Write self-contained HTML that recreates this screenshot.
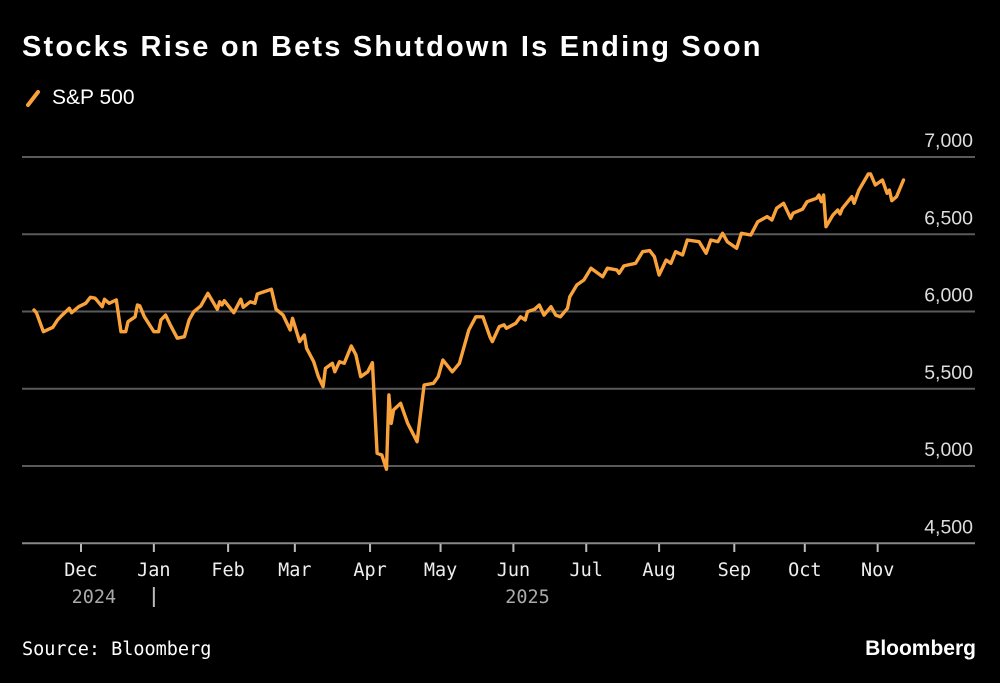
<!DOCTYPE html>
<html><head><meta charset="utf-8"><style>
html,body{margin:0;padding:0;background:#000;}
body{width:1000px;height:683px;overflow:hidden;position:relative;font-family:"Liberation Sans",sans-serif;color:#fff;}
.title{position:absolute;left:22px;top:31px;font-size:29px;font-weight:bold;letter-spacing:2.2px;white-space:nowrap;}
.legend{position:absolute;left:24px;top:86px;font-size:21px;display:flex;align-items:center;}
.src{position:absolute;left:22px;top:639px;font-family:"DejaVu Sans Mono","Liberation Mono",monospace;font-size:18.5px;}
.brand{position:absolute;right:24px;top:637px;font-size:21px;font-weight:bold;}
svg{position:absolute;left:0;top:0;}
</style></head><body>
<div class="title">Stocks Rise on Bets Shutdown Is Ending Soon</div>
<div class="legend">
<svg style="position:static" width="20" height="22"><line x1="4" y1="18" x2="14" y2="5" stroke="#f9a23b" stroke-width="4" stroke-linecap="round"/></svg>
<span style="margin-left:8px">S&amp;P 500</span></div>
<svg id="chart" width="1000" height="683"></svg>
<div class="src">Source: Bloomberg</div>
<div class="brand">Bloomberg</div>
<script>
const days=[0,1,4,8,10,12,15,16,19,22,24,26,29,30,32,35,37,39,40,43,44,45,47,51,53,54,56,58,61,64,66,68,71,74,78,79,80,81,85,88,89,92,94,95,101,103,106,109,110,113,115,116,119,121,123,124,127,128,130,132,135,137,139,142,144,146,148,150,151,152,153,156,159,163,166,170,172,174,178,181,185,188,191,194,195,198,200,201,205,207,209,210,213,215,217,220,222,224,227,228,231,234,237,242,244,248,249,251,256,259,262,264,266,269,271,273,276,278,283,286,288,291,293,295,299,301,305,308,312,314,316,319,322,323,327,329,333,334,335,336,337,340,342,343,344,348,349,351,355,356,358,361,363,364,365,367,370];
const values=[6010,5992,5869,5898,5945,5977,6021,5992,6031,6053,6092,6086,6031,6079,6053,6075,5869,5869,5934,5966,6042,6036,5966,5869,5869,5945,5977,5913,5827,5837,5945,5999,6036,6118,6014,6063,6042,6070,5992,6079,6027,6063,6053,6113,6144,6014,5977,5880,5956,5805,5848,5762,5675,5578,5513,5632,5665,5610,5675,5665,5777,5719,5578,5610,5669,5082,5071,4979,5460,5276,5363,5406,5276,5157,5524,5535,5578,5686,5610,5665,5880,5966,5966,5837,5805,5902,5913,5891,5924,5966,5945,5999,6014,6042,5977,6031,5977,5966,6021,6096,6172,6204,6280,6225,6280,6269,6247,6295,6312,6387,6394,6355,6236,6333,6312,6387,6366,6463,6452,6377,6463,6452,6506,6452,6409,6506,6495,6581,6614,6592,6668,6700,6603,6636,6662,6711,6733,6754,6711,6754,6549,6625,6657,6631,6668,6743,6700,6786,6890,6890,6819,6851,6765,6786,6717,6743,6851];
const yTicks=[7000,6500,6000,5500,5000,4500];
const yTickLabels=["7,000","6,500","6,000","5,500","5,000","4,500"];
const monthLabels=["Dec","Jan","Feb","Mar","Apr","May","Jun","Jul","Aug","Sep","Oct","Nov"];
const monthDays=[20,51,82.6,111,143,173,204,235,266,298,328,359];
const yearLabels=["2024","2025"];
const yearDays=[25.5,210];
const sep=51;
const NS="http://www.w3.org/2000/svg";
const svg=document.getElementById('chart');
const X=d=>34+d*2.35;
const Y=v=>157+(7000-v)/500*77.25;
function mk(t,a){const e=document.createElementNS(NS,t);for(const k in a)e.setAttribute(k,a[k]);svg.appendChild(e);return e;}
yTicks.forEach((v,i)=>{
 const l=mk('line',{x1:22,x2:975,y1:Y(v),y2:Y(v),stroke:i==yTicks.length-1?'#888':'#5a5a5a','stroke-width':2});
 
 
 const t=mk('text',{x:973,y:Y(v)-10,'text-anchor':'end',fill:'#ddd','font-size':19.5,'font-family':'Liberation Sans, sans-serif'});
 t.textContent=yTickLabels[i];
 
 
});
monthDays.forEach((d,i)=>{
 const tk=mk('line',{x1:X(d),x2:X(d),y1:544,y2:552,stroke:'#bbb','stroke-width':2});
 
 
 const t=mk('text',{x:X(d),y:576,'text-anchor':'middle',fill:'#eee','font-size':18.5,'font-family':'DejaVu Sans Mono, Liberation Mono, monospace'});
 t.textContent=monthLabels[i];
 
 
});
yearDays.forEach((d,i)=>{
 const t=mk('text',{x:X(d),y:603,'text-anchor':'middle',fill:'#aaa','font-size':18.5,'font-family':'DejaVu Sans Mono, Liberation Mono, monospace'});
 t.textContent=yearLabels[i];
 
 
});
const s=mk('line',{x1:X(sep),x2:X(sep),y1:587,y2:607,stroke:'#bbb','stroke-width':2});


const p=mk('polyline',{points:days.map((d,i)=>X(d).toFixed(1)+','+Y(values[i]).toFixed(1)).join(' '),fill:'none',stroke:'#f9a23b','stroke-width':3.4,'stroke-linejoin':'round','stroke-linecap':'round'});


</script>
</body></html>
